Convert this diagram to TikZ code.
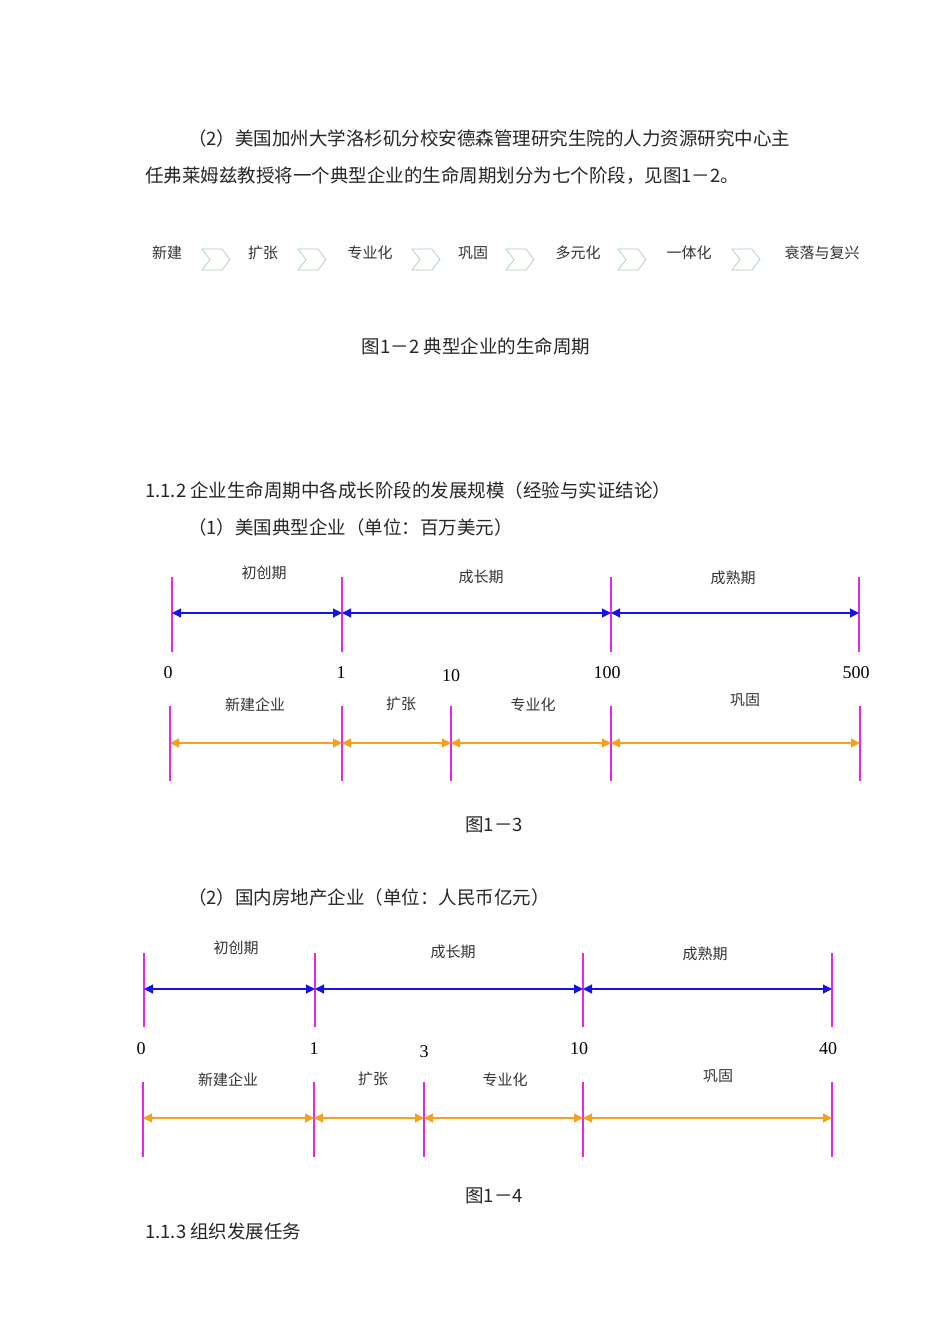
\documentclass[tikz,border=0pt]{standalone}
\usepackage{fontspec}
\setmainfont{Liberation Serif}
\newfontfamily\cjk{Noto Sans CJK SC}
\usetikzlibrary{arrows.meta}
\definecolor{tickc}{RGB}{230,40,230}
\definecolor{bluec}{RGB}{20,20,230}
\definecolor{orangec}{RGB}{245,160,30}
\definecolor{chevc}{RGB}{170,210,170}
\tikzset{
 body/.style={anchor=west,inner sep=0,font=\cjk\fontsize{18.5}{18.5}\selectfont,text=black!85},
 lab/.style={inner sep=0,font=\cjk\fontsize{15}{15}\selectfont,text=black!80},
 num/.style={inner sep=0,font=\fontsize{18}{18}\selectfont},
 tick/.style={tickc,line width=1.3pt},
 barb/.style={bluec,line width=1.2pt,{Triangle[length=9pt,width=9pt]}-{Triangle[length=9pt,width=9pt]}},
 baro/.style={orangec,line width=1.2pt,{Triangle[length=9pt,width=9pt]}-{Triangle[length=9pt,width=9pt]}},
 chev/.style={chevc,line width=0.7pt}
}
\begin{document}
\begin{tikzpicture}[x=1pt,y=-1pt]
\useasboundingbox[fill=white] (0,0) rectangle (950,1344);
\node[body] (t1) at (188,138) {（2）美国加州大学洛杉矶分校安德森管理研究生院的人力资源研究中心主};
\node[body] (t2) at (145,176) {任弗莱姆兹教授将一个典型企业的生命周期划分为七个阶段，见图1－2。};
% flow
\foreach \n/\x/\t in {f1/167/新建,f2/263/扩张,f3/370/专业化,f4/473/巩固,f5/578/多元化,f6/689/一体化,f7/822/衰落与复兴}
  \node[lab] (\n) at (\x,253) {\t};
\foreach \x in {202,298,412,506,618,732}
  \draw[chev] (\x,249) -- (\x+20,249) -- (\x+28,259.5) -- (\x+20,270) -- (\x,270) -- (\x+8,259.5) -- cycle;
\node[body,anchor=center] (c2) at (476,346) {图1－2 典型企业的生命周期};
\node[body] (h2) at (145,490) {1.1.2 企业生命周期中各成长阶段的发展规模（经验与实证结论）};
\node[body] (s1) at (188,527) {（1）美国典型企业（单位：百万美元）};
% diagram 1
\foreach \n/\x in {a/172,b/342,c/611,d/859} {
  \coordinate (u\n1) at (\x,577); \coordinate (u\n2) at (\x,652);
  \draw[tick] (u\n1) -- (u\n2);
  \coordinate (u\n) at (\x,613);}
\draw[barb] (ua) -- (ub); \draw[barb] (ub) -- (uc); \draw[barb] (uc) -- (ud);
\node[lab] (ul1) at (264,573) {初创期};
\node[lab] (ul2) at (481,577) {成长期};
\node[lab] (ul3) at (733,578) {成熟期};
\foreach \n/\x/\t in {n1/168/0,n2/341/1,n3/451/10,n4/607/100,n5/856/500}
  \node[num] (u\n) at (\x,673+\ifnum\x=451 3\else 0\fi) {\t};
\foreach \n/\x in {a/170,b/342,c/451,d/611,e/860} {
  \coordinate (v\n1) at (\x,706); \coordinate (v\n2) at (\x,781);
  \draw[tick] (v\n1) -- (v\n2);
  \coordinate (v\n) at (\x,743);}
\draw[baro] (va) -- (vb); \draw[baro] (vb) -- (vc); \draw[baro] (vc) -- (vd); \draw[baro] (vd) -- (ve);
\node[lab] (vl1) at (255,705) {新建企业};
\node[lab] (vl2) at (401,704) {扩张};
\node[lab] (vl3) at (533,705) {专业化};
\node[lab] (vl4) at (745,700) {巩固};
\node[body,anchor=center] (c3) at (494,825) {图1－3};
\node[body] (s2) at (188,897) {（2）国内房地产企业（单位：人民币亿元）};
% diagram 2
\foreach \n/\x in {a/144,b/315,c/583,d/832} {
  \coordinate (w\n1) at (\x,953); \coordinate (w\n2) at (\x,1027);
  \draw[tick] (w\n1) -- (w\n2);
  \coordinate (w\n) at (\x,989);}
\draw[barb] (wa) -- (wb); \draw[barb] (wb) -- (wc); \draw[barb] (wc) -- (wd);
\node[lab] (wl1) at (236,948) {初创期};
\node[lab] (wl2) at (453,952) {成长期};
\node[lab] (wl3) at (705,954) {成熟期};
\foreach \n/\x/\t in {n1/141/0,n2/314/1,n3/424/3,n4/579/10,n5/828/40}
  \node[num] (w\n) at (\x,1049+\ifnum\x=424 3\else 0\fi) {\t};
\foreach \n/\x in {a/143,b/314,c/424,d/583,e/832} {
  \coordinate (z\n1) at (\x,1082); \coordinate (z\n2) at (\x,1157);
  \draw[tick] (z\n1) -- (z\n2);
  \coordinate (z\n) at (\x,1118);}
\draw[baro] (za) -- (zb); \draw[baro] (zb) -- (zc); \draw[baro] (zc) -- (zd); \draw[baro] (zd) -- (ze);
\node[lab] (zl1) at (228,1080) {新建企业};
\node[lab] (zl2) at (373,1079) {扩张};
\node[lab] (zl3) at (505,1080) {专业化};
\node[lab] (zl4) at (718,1076) {巩固};
\node[body,anchor=center] (c4) at (494,1196) {图1－4};
\node[body] (h3) at (145,1231) {1.1.3 组织发展任务};
\end{tikzpicture}
\end{document}
